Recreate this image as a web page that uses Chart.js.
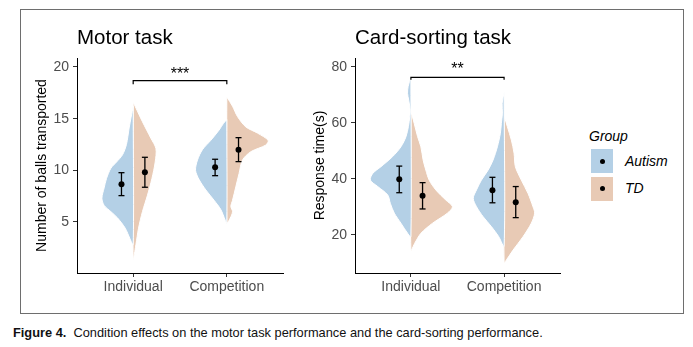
<!DOCTYPE html>
<html>
<head>
<meta charset="utf-8">
<script src="https://cdn.jsdelivr.net/npm/chart.js@4.4.1/dist/chart.umd.min.js"></script>
<style>
  html, body { margin: 0; padding: 0; background: #fff; }
  body { width: 693px; height: 347px; position: relative; overflow: hidden;
         font-family: "Liberation Sans", Arial, sans-serif; }
  #frame { position: absolute; left: 20px; top: 9px; width: 664px; height: 305px;
           box-sizing: border-box; border: 1px solid #6e6e6e; }
  canvas { position: absolute; top: 10px; }
  #motor { left: 20px; }
  #card { left: 298px; }
  .lg { position: absolute; font-size: 14px; line-height: 16px; font-style: italic; color: #000; }
  .key { position: absolute; width: 22px; height: 24px; }
  .key i { position: absolute; left: 8.5px; top: 9.5px; width: 5px; height: 5px; border-radius: 50%; background: #000; }
  #caption { position: absolute; left: 13px; top: 326px; font-size: 12.8px; line-height: 14px;
             white-space: nowrap; color: #111; }
</style>
</head>
<body>
<div id="frame"></div>
<canvas id="motor" width="280" height="290"></canvas>
<canvas id="card" width="280" height="290"></canvas>
<div id="legend"></div>
<div id="caption"><b>Figure 4.</b>&nbsp; Condition effects on the motor task performance and the card-sorting performance.</div>
<script>
const conditions = ['Individual', 'Competition'];
const groups = ['Autism', 'TD'];
const groupColors = ['#b4d0e6', '#e8cab5'];

const motorTicks = [5, 10, 15, 20];
const cardTicks = [20, 40, 60, 80];

// violin outlines: values from top to bottom, half width in category units
const motorIndAutismY = [16.2, 14.1, 12.5, 11.5, 10.8, 10.2, 9.2, 8.3, 7.3, 6.6, 6.0, 5.4, 4.4, 3.4, 2.8];
const motorIndAutismW = [0, 0.043, 0.072, 0.114, 0.178, 0.238, 0.285, 0.31, 0.334, 0.31, 0.238, 0.168, 0.085, 0.035, 0];
const motorIndTdY = [16.6, 14.7, 13.1, 12.1, 10.8, 9.2, 7.6, 6.0, 4.4, 2.8, 1.4];
const motorIndTdW = [0, 0.099, 0.189, 0.243, 0.235, 0.2, 0.153, 0.099, 0.057, 0.029, 0];
const motorCompAutismY = [14.9, 14.55, 13.9, 12.9, 12.0, 11.0, 10.0, 9.1, 8.1, 7.1, 6.2, 5.2, 4.9];
const motorCompAutismW = [0, 0.035, 0.082, 0.171, 0.26, 0.313, 0.334, 0.296, 0.224, 0.136, 0.064, 0.018, 0];
const motorCompTdY = [17.1, 16.2, 15.2, 14.2, 13.6, 12.9, 12.45, 11.8, 11.0, 9.7, 8.4, 7.1, 6.5, 6.0, 5.35, 4.9];
const motorCompTdW = [0, 0.061, 0.114, 0.203, 0.328, 0.441, 0.417, 0.256, 0.168, 0.131, 0.096, 0.061, 0.043, 0.061, 0.035, 0];

const cardIndAutismY = [76.6, 73.0, 70.6, 68.2, 64.6, 62.3, 58.7, 55.1, 51.5, 48.0, 44.4, 42.0, 39.6, 37.3, 34.3, 31.3, 27.8, 24.2, 20.6, 19.4];
const cardIndAutismW = [0, 0.03, 0.036, 0.024, 0.008, 0.012, 0.027, 0.053, 0.107, 0.196, 0.321, 0.409, 0.435, 0.356, 0.249, 0.221, 0.178, 0.107, 0.035, 0];
const cardIndTdY = [64.3, 59.9, 55.1, 51.5, 46.8, 43.2, 39.6, 36.1, 32.5, 30.1, 27.8, 24.2, 20.6, 17.0, 14.6];
const cardIndTdW = [0, 0.035, 0.072, 0.107, 0.131, 0.16, 0.196, 0.267, 0.374, 0.446, 0.392, 0.232, 0.107, 0.04, 0];
const cardCompAutismY = [71.0, 67.0, 63.5, 59.9, 56.3, 51.5, 46.8, 43.2, 39.6, 36.1, 33.1, 30.1, 26.5, 23.0, 19.4, 16.0];
const cardCompAutismW = [0, 0.021, 0.018, 0.029, 0.04, 0.072, 0.118, 0.171, 0.243, 0.296, 0.331, 0.296, 0.224, 0.136, 0.057, 0];
const cardCompTdY = [62.6, 58.7, 53.9, 49.2, 44.4, 39.6, 34.9, 30.1, 27.8, 24.2, 19.4, 14.6, 11.1, 10.2];
const cardCompTdW = [0, 0.035, 0.078, 0.107, 0.121, 0.185, 0.256, 0.31, 0.328, 0.292, 0.203, 0.096, 0.025, 0];

// mean and error bar ends per condition
const motorAutismMean = [8.66, 10.29];
const motorAutismLow = [7.55, 9.48];
const motorAutismHigh = [9.77, 11.07];
const motorTdMean = [9.81, 12.0];
const motorTdLow = [8.36, 10.84];
const motorTdHigh = [11.26, 13.16];

const cardAutismMean = [39.9, 36.0];
const cardAutismLow = [35.1, 31.5];
const cardAutismHigh = [44.6, 40.6];
const cardTdMean = [34.0, 31.7];
const cardTdLow = [29.3, 26.2];
const cardTdHigh = [38.7, 37.3];

const FONT = '"Liberation Sans", Arial, sans-serif';
Chart.defaults.font.family = FONT;
const dodge = 0.125;

function halfViolin(center, side, ys, ws) {
    const pts = ys.map((y, i) => ({ x: center + side * ws[i], y }));
    pts.push({ x: center, y: ys[0] }); // close along the centre line
    return pts;
}

function errorBars(offset, lo, hi) {
    const pts = [];
    lo.forEach((l, i) => {
        const x = i + 1 + offset;
        pts.push({ x, y: l }, { x, y: hi[i] }, { x, y: null });
    });
    return pts;
}

const meanPoints = (offset, means) => means.map((m, i) => ({ x: i + 1 + offset, y: m }));

// asterisks above the bracket
const starPlugin = {
    id: 'stars',
    afterDatasetsDraw(chart, args, opts) {
        const { ctx, scales: { x, y } } = chart;
        ctx.save();
        ctx.font = '16px ' + FONT;
        ctx.fillStyle = '#000';
        ctx.textAlign = 'center';
        ctx.textBaseline = 'alphabetic';
        ctx.fillText(opts.text, x.getPixelForValue(1.5), y.getPixelForValue(opts.y));
        ctx.restore();
    }
};

function violinSet(data, color) {
    return {
        data, fill: 'shape', backgroundColor: color, borderColor: '#fff', borderWidth: 1,
        pointRadius: 0, tension: 0.3, order: 3
    };
}

function createPanel(id, p) {
    const datasets = [
        violinSet(halfViolin(1, -1, p.v[0][0], p.v[0][1]), groupColors[0]),
        violinSet(halfViolin(1, 1, p.v[1][0], p.v[1][1]), groupColors[1]),
        violinSet(halfViolin(2, -1, p.v[2][0], p.v[2][1]), groupColors[0]),
        violinSet(halfViolin(2, 1, p.v[3][0], p.v[3][1]), groupColors[1]),
        {
            data: errorBars(-dodge, p.autism[1], p.autism[2]).concat(errorBars(dodge, p.td[1], p.td[2])),
            borderColor: '#000', borderWidth: 1.3, pointStyle: 'line', pointRadius: 3,
            pointBorderWidth: 1.3, pointBorderColor: '#000', spanGaps: false, fill: false, order: 1
        },
        {
            data: meanPoints(-dodge, p.autism[0]).concat(meanPoints(dodge, p.td[0])),
            showLine: false, pointRadius: 3, pointBackgroundColor: '#000', pointBorderWidth: 0, order: 0
        },
        {
            data: [{ x: 1, y: p.bracket[1] }, { x: 1, y: p.bracket[0] }, { x: 2, y: p.bracket[0] }, { x: 2, y: p.bracket[1] }],
            borderColor: '#000', borderWidth: 1.2, pointRadius: 0, tension: 0, fill: false, order: 0
        }
    ];
    const axisGrid = { display: true, drawOnChartArea: false, tickLength: 4, color: '#333' };
    return new Chart(document.getElementById(id), {
        type: 'line',
        data: { datasets },
        options: {
            responsive: false,
            animation: false,
            layout: { padding: { right: p.padRight } },
            plugins: {
                legend: { display: false },
                tooltip: { enabled: false },
                title: {
                    display: true, text: p.title, align: 'start', fullSize: false, color: '#000',
                    font: { size: 20.5, weight: 'normal', lineHeight: 1.2 }, padding: { top: 16, bottom: 7.4 }
                },
                stars: { text: p.stars, y: p.starY }
            },
            scales: {
                x: {
                    type: 'linear', min: 0.4, max: 2.6,
                    grid: axisGrid,
                    border: { color: '#000', width: 1 },
                    ticks: { color: '#4d4d4d', font: { size: 14 }, padding: 2, maxRotation: 0,
                             callback: v => conditions[v - 1] },
                    afterBuildTicks: s => { s.ticks = conditions.map((c, i) => ({ value: i + 1 })); },
                    afterFit: s => { s.height = 27; }
                },
                y: {
                    type: 'linear', min: p.yMin, max: p.yMax,
                    grid: axisGrid,
                    border: { color: '#000', width: 1 },
                    ticks: { color: '#4d4d4d', font: { size: 14 }, padding: 4 },
                    afterBuildTicks: s => { s.ticks = p.yTicks.map(v => ({ value: v })); },
                    afterFit: s => { s.width = 57; },
                    title: { display: true, text: p.yTitle, color: '#000', font: { size: 14 },
                             padding: { top: 14, bottom: 0 } }
                }
            }
        },
        plugins: [starPlugin]
    });
}

createPanel('motor', {
    title: 'Motor task', yTitle: 'Number of balls transported',
    yMin: 0.06, yMax: 20.87, yTicks: motorTicks,
    v: [[motorIndAutismY, motorIndAutismW], [motorIndTdY, motorIndTdW],
        [motorCompAutismY, motorCompAutismW], [motorCompTdY, motorCompTdW]],
    autism: [motorAutismMean, motorAutismLow, motorAutismHigh],
    td: [motorTdMean, motorTdLow, motorTdHigh],
    bracket: [18.68, 18.32], stars: '***', starY: 18.81, padRight: 17
});

createPanel('card', {
    title: 'Card-sorting task', yTitle: 'Response time(s)',
    yMin: 6.43, yMax: 83.2, yTicks: cardTicks,
    v: [[cardIndAutismY, cardIndAutismW], [cardIndTdY, cardIndTdW],
        [cardCompAutismY, cardCompAutismW], [cardCompTdY, cardCompTdW]],
    autism: [cardAutismMean, cardAutismLow, cardAutismHigh],
    td: [cardTdMean, cardTdLow, cardTdHigh],
    bracket: [76.3, 75.4], stars: '**', starY: 77.4, padRight: 18
});

// legend (ggplot style, right of the second panel)
const legend = document.getElementById('legend');
legend.innerHTML = '<div class="lg" style="left:589px;top:128px">Group</div>' +
    groups.map((g, i) =>
        `<div class="key" style="left:591px;top:${149 + i * 27.5}px;background:${groupColors[i]}"><i></i></div>` +
        `<div class="lg" style="left:625px;top:${153 + i * 27}px">${g}</div>`).join('');
</script>
</body>
</html>
